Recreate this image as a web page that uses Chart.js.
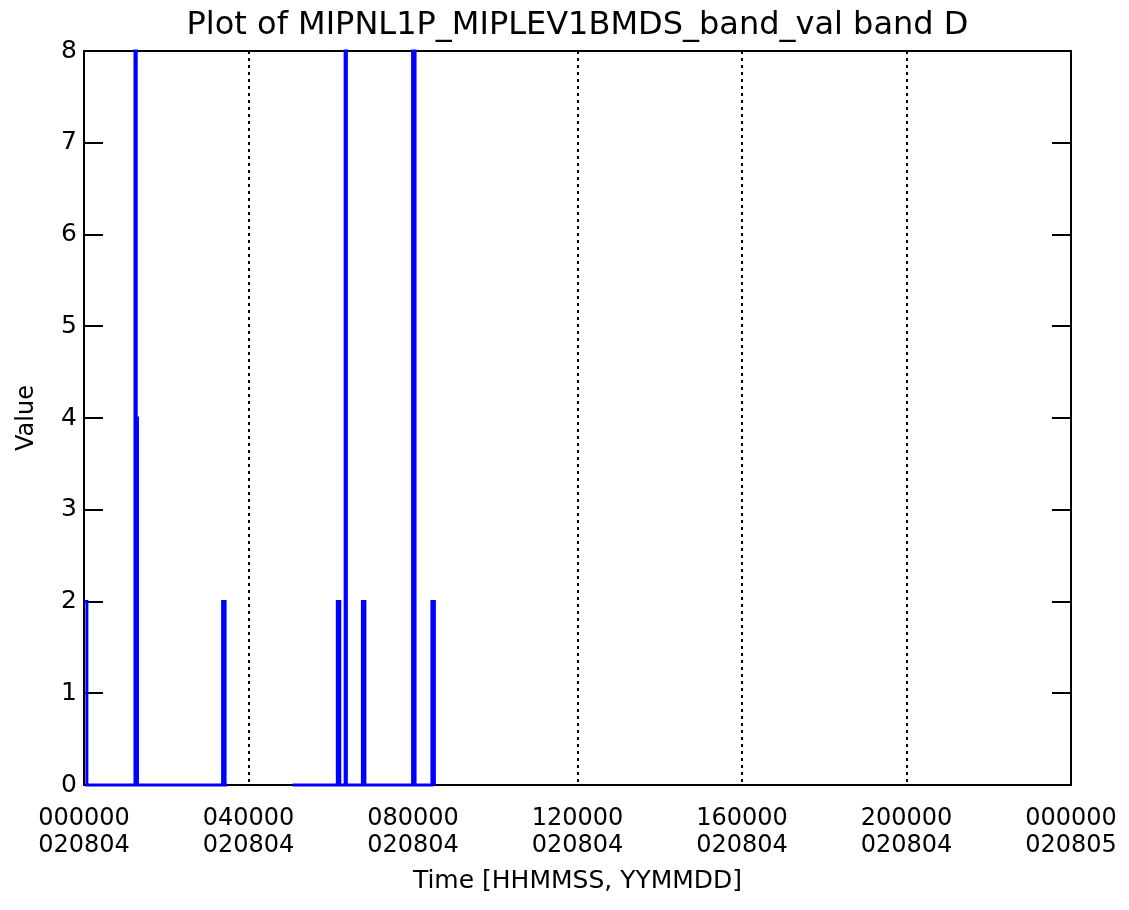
<!DOCTYPE html>
<html>
<head>
<meta charset="utf-8">
<title>MIPNL1P_MIPLEV1BMDS_band_val band D</title>
<script src="https://cdn.jsdelivr.net/npm/chart.js@4/dist/chart.umd.min.js"></script>
<style>
  body { margin: 0; background: #fff; }
  canvas { display: block; }
</style>
</head>
<body>
<canvas id="grafico" width="1129" height="910"></canvas>
<script>
// time in hours since 000000 020804, value holds from that time on (null = no data)
const tempos  = [0.00, 0.07, 1.24, 1.27, 1.30, 3.37, 3.43, 3.48, 3.49, 5.07, 6.16, 6.22, 6.35, 6.38, 6.77, 6.83, 7.99, 8.05, 8.46, 8.52];
const valores = [2,    0,    8,    4,    0,    2,    0,    0,    null, 0,    2,    0,    8,    0,    2,    0,    8,    0,    2,    0];

const horasTick = [0, 4, 8, 12, 16, 20, 24];
const rotulosHora = ['000000', '040000', '080000', '120000', '160000', '200000', '000000'];
const rotulosData = ['020804', '020804', '020804', '020804', '020804', '020804', '020805'];

const fonte = 'DejaVu Sans';

// frame and inward y ticks on both sides
const moldura = {
    id: 'moldura',
    beforeDatasetsDraw(chart) {
        const ctx = chart.ctx;
        const a = chart.chartArea;
        const y = chart.scales.y;
        ctx.save();
        ctx.strokeStyle = '#000';
        ctx.lineWidth = 2;
        ctx.strokeRect(a.left, a.top, a.right - a.left, a.bottom - a.top);
        y.ticks.forEach(t => {
            const py = Math.round(y.getPixelForValue(t.value));
            ctx.beginPath();
            ctx.moveTo(a.left, py);
            ctx.lineTo(a.left + 19, py);
            ctx.moveTo(a.right, py);
            ctx.lineTo(a.right - 19, py);
            ctx.stroke();
        });
        ctx.restore();
    }
};

new Chart(document.getElementById('grafico').getContext('2d'), {
    type: 'line',
    data: {
        datasets: [{
            label: 'band D',
            data: tempos.map((t, i) => ({ x: t, y: valores[i] })),
            borderColor: '#0000ff',
            borderWidth: 3,
            pointRadius: 0,
            stepped: true,
            spanGaps: false,
            fill: false,
            clip: false
        }]
    },
    options: {
        responsive: false,
        animation: false,
        layout: { padding: { left: 0, right: 58, top: 0, bottom: 0 } },
        plugins: {
            legend: { display: false },
            tooltip: { enabled: false }
        },
        scales: {
            // top axis only carries the plot title, centred over the plot area
            topo: {
                type: 'linear',
                position: 'top',
                min: 0,
                max: 24,
                afterFit(s) { s.height = 51; s.paddingLeft = 0; s.paddingRight = 0; },
                ticks: { display: false },
                grid: { display: false },
                border: { display: false },
                title: {
                    display: true,
                    text: 'Plot of MIPNL1P_MIPLEV1BMDS_band_val band D',
                    color: '#000',
                    font: { family: fonte, size: 32, weight: 'normal', lineHeight: 1.2 },
                    padding: { top: 6, bottom: 0 }
                }
            },
            x: {
                type: 'linear',
                min: 0,
                max: 24,
                afterFit(s) { s.height = 125; s.paddingLeft = 0; s.paddingRight = 0; },
                afterBuildTicks(s) { s.ticks = horasTick.map(v => ({ value: v })); },
                ticks: {
                    autoSkip: false,
                    maxRotation: 0,
                    padding: 21,
                    color: '#000',
                    font: { family: fonte, size: 24, lineHeight: 1.1 },
                    callback: (v) => {
                        const i = horasTick.indexOf(v);
                        return i < 0 ? '' : [rotulosHora[i], rotulosData[i]];
                    }
                },
                grid: {
                    drawTicks: false,
                    lineWidth: 2,
                    color: (c) => (c.tick && (c.tick.value === 0 || c.tick.value === 24)) ? 'rgba(0,0,0,0)' : '#000'
                },
                border: { display: false, dash: [3, 4] },
                title: {
                    display: true,
                    text: 'Time [HHMMSS, YYMMDD]',
                    color: '#000',
                    font: { family: fonte, size: 25, lineHeight: 1.2 },
                    padding: { top: 0, bottom: 14 }
                }
            },
            y: {
                min: 0,
                max: 8,
                afterFit(s) { s.width = 84; },
                ticks: {
                    stepSize: 1,
                    padding: 7,
                    color: '#000',
                    font: { family: fonte, size: 25 }
                },
                grid: { drawOnChartArea: false, drawTicks: false },
                border: { display: false },
                title: {
                    display: true,
                    text: 'Value',
                    color: '#000',
                    font: { family: fonte, size: 24, lineHeight: 1.2 },
                    padding: { top: 12, bottom: 0 }
                }
            }
        }
    },
    plugins: [moldura]
});
</script>
</body>
</html>
